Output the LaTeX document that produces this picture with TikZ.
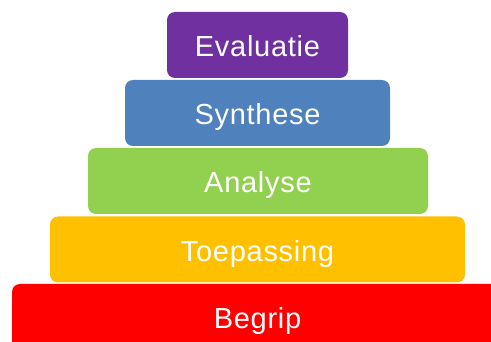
\documentclass[tikz,border=0pt]{standalone}
\usepackage{fontspec}
\setmainfont{Liberation Sans}
\newfontfamily\laagfont[LetterSpace=2.5]{Liberation Sans}
\usepackage{tikz}
\definecolor{evalpurple}{HTML}{7030A0}
\definecolor{synthblue}{HTML}{4F81BD}
\definecolor{anagreen}{HTML}{92D050}
\definecolor{toeporange}{HTML}{FFC000}
\definecolor{begripred}{HTML}{FF0000}

\begin{document}
\begin{tikzpicture}[x=1pt, y=-1pt,
		laag/.style = {rectangle, rounded corners=8pt, minimum height=66pt, inner sep=0pt,
			text height=24pt, text depth=0pt,
			text=white, font=\laagfont\fontsize{29}{30}\selectfont}]
		\useasboundingbox (0,0) rectangle (491,342);
		\clip (0,0) rectangle (491,342);
		\node[laag, fill=evalpurple, minimum width=181pt] (evaluatie) at (257.5,45) {Evaluatie};
		\node[laag, fill=synthblue, minimum width=265pt] (synthese) at (257.5,113) {Synthese};
		\node[laag, fill=anagreen, minimum width=340pt] (analyse) at (258,181) {Analyse};
		\node[laag, fill=toeporange, minimum width=415pt] (toepassing) at (257.5,249.5) {Toepassing};
		\node[laag, fill=begripred, minimum width=491pt] (begrip) at (257.5,317) {Begrip};
	\end{tikzpicture}
\end{document}
